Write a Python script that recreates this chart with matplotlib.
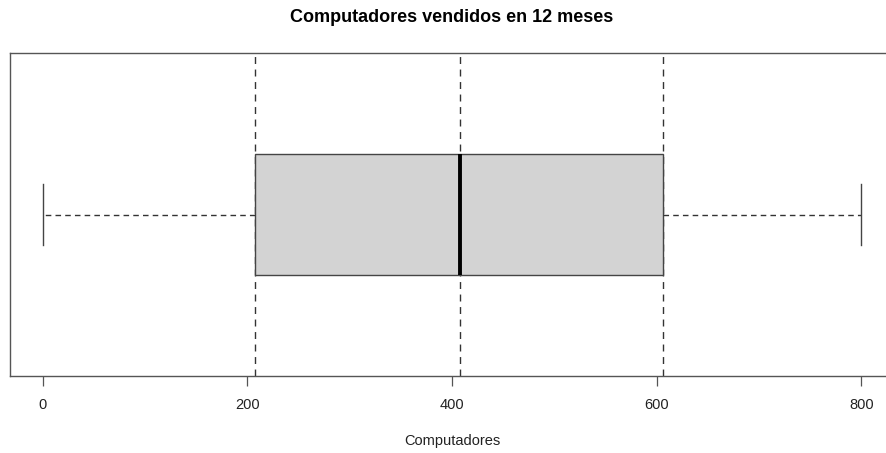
import matplotlib.pyplot as plt

plt.rcParams['font.family'] = ['Liberation Sans', 'DejaVu Sans']

# five-number summary of computers sold in 12 months
minimum = 0
q1 = 207
median = 408
q3 = 606
maximum = 800
xticks = [0, 200, 400, 600, 800]

W, H = 886, 453
fig = plt.figure(figsize=(W / 100, H / 100), dpi=100)
# R-style plot region, cropped on the right side
left, right, top, bottom = 10, 894, 53, 376
ax = fig.add_axes([left / W, 1 - bottom / H, (right - left) / W, (bottom - top) / H])

stats = [dict(whislo=minimum, q1=q1, med=median, q3=q3, whishi=maximum, fliers=[])]
ax.bxp(stats, positions=[1], vert=False, widths=0.372, patch_artist=True,
       showfliers=False,
       boxprops=dict(facecolor='#d3d3d3', edgecolor='#444444', linewidth=1.0),
       medianprops=dict(color='black', linewidth=2.8, solid_capstyle='butt'),
       whiskerprops=dict(color='#333333', linestyle=(0, (4, 3)), linewidth=1.0),
       capprops=dict(color='#444444', linewidth=1.0),
       capwidths=0.186)

for v in (q1, median, q3):
    ax.axvline(v, color='#333333', linestyle=(0, (5, 4)), linewidth=1.0, zorder=0)

ax.set_xlim(-32, 832)
ax.set_ylim(0.5, 1.5)
ax.set_yticks([])
ax.set_xticks(xticks)
ax.set_xticklabels([str(t) for t in xticks])
ax.tick_params(axis='x', length=7, width=0.9, color='#555555', pad=9,
               labelsize=10.5, labelcolor='#222222')
for s in ax.spines.values():
    s.set_color('#555555')
    s.set_linewidth(1.0)

ax.set_xlabel('Computadores', fontsize=10.5, color='#222222', labelpad=16)
fig.text(452 / W, 1 - 18 / H, 'Computadores vendidos en 12 meses',
         ha='center', va='center', fontsize=13, fontweight='bold')

fig.savefig('out.png', dpi=100)
